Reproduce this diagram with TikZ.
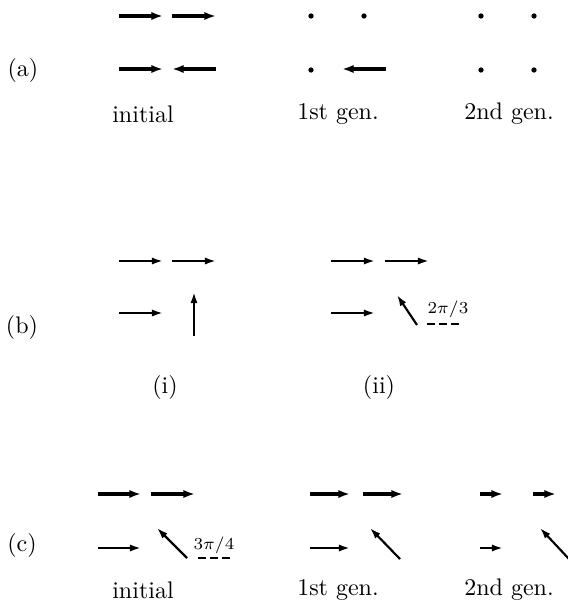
\documentclass[tikz,border=0pt]{standalone}
\usepackage{amsmath}
\usepackage{tikz}
\usetikzlibrary{arrows.meta}
\tikzset{
  spinthick/.style={line width=1.4pt,-{Latex[length=4.8pt,width=3.4pt]}},
  spinthin/.style={line width=0.9pt,-{Latex[length=4.6pt,width=3pt]}},
  spindot/.style={circle,fill=black,inner sep=0pt,minimum size=2.2pt},
  anglemark/.style={line width=1.1pt,dash pattern=on 3.4pt off 1.6pt},
  lbl/.style={inner sep=0pt}
}
\begin{document}
\begin{tikzpicture}[x=0.4167pt,y=-0.4167pt]
\useasboundingbox (0,0) rectangle (568,604);
% (a)
\node[lbl] (lbla) at (23,70) {(a)};
\draw[spinthick] (119,16) -- (163,16);
\draw[spinthick] (172,16) -- (216,16);
\draw[spinthick] (119,69) -- (163,69);
\draw[spinthick] (216,69) -- (172,69);
\node[spindot] (a11) at (311,16) {};
\node[spindot] (a12) at (364,16) {};
\node[spindot] (a13) at (311,70) {};
\draw[spinthick] (386,69) -- (342,69);
\node[spindot] (a21) at (481,16) {};
\node[spindot] (a22) at (534,16) {};
\node[spindot] (a23) at (481,70) {};
\node[spindot] (a24) at (534,70) {};
\node[lbl] (ainit) at (143,114) {initial};
\node[lbl] (agen1) at (338,114) {1st gen.};
\node[lbl] (agen2) at (509,114) {2nd gen.};
% (b)
\node[lbl] (lblb) at (22,327) {(b)};
\draw[spinthin] (119,261) -- (163,261);
\draw[spinthin] (172,261) -- (216,261);
\draw[spinthin] (119,313) -- (163,313);
\draw[spinthin] (194,336) -- (194,292);
\draw[spinthin] (331,261) -- (375,261);
\draw[spinthin] (385,261) -- (429,261);
\draw[spinthin] (331,313) -- (375,313);
\draw[spinthin] (417,325) -- (397,295);
\node[lbl,font=\scriptsize] (angb) at (448,309) {$2\pi/3$};
\draw[anglemark] (427,324) -- (461,324);
\node[lbl] (bi) at (165,387) {(i)};
\node[lbl] (bii) at (379,387) {(ii)};
% (c)
\node[lbl] (lblc) at (22,545) {(c)};
\draw[spinthick] (98,494) -- (141,494);
\draw[spinthick] (151,494) -- (195,494);
\draw[spinthin] (98,548) -- (141,548);
\draw[spinthin] (187,558) -- (157,528);
\node[lbl,font=\scriptsize] (angc) at (214,545) {$3\pi/4$};
\draw[anglemark] (198,558) -- (232,558);
\draw[spinthick] (310,494) -- (350,494);
\draw[spinthick] (363,494) -- (403,494);
\draw[spinthin] (310,548) -- (350,548);
\draw[spinthin] (400,559) -- (370,528);
\draw[spinthick] (480,494) -- (503,494);
\draw[spinthick] (533,494) -- (556,494);
\draw[spinthin] (480,548) -- (503,548);
\draw[spinthin] (569,559) -- (540,528);
\node[lbl] (cinit) at (143,590) {initial};
\node[lbl] (cgen1) at (338,590) {1st gen.};
\node[lbl] (cgen2) at (509,590) {2nd gen.};
\end{tikzpicture}
\end{document}
